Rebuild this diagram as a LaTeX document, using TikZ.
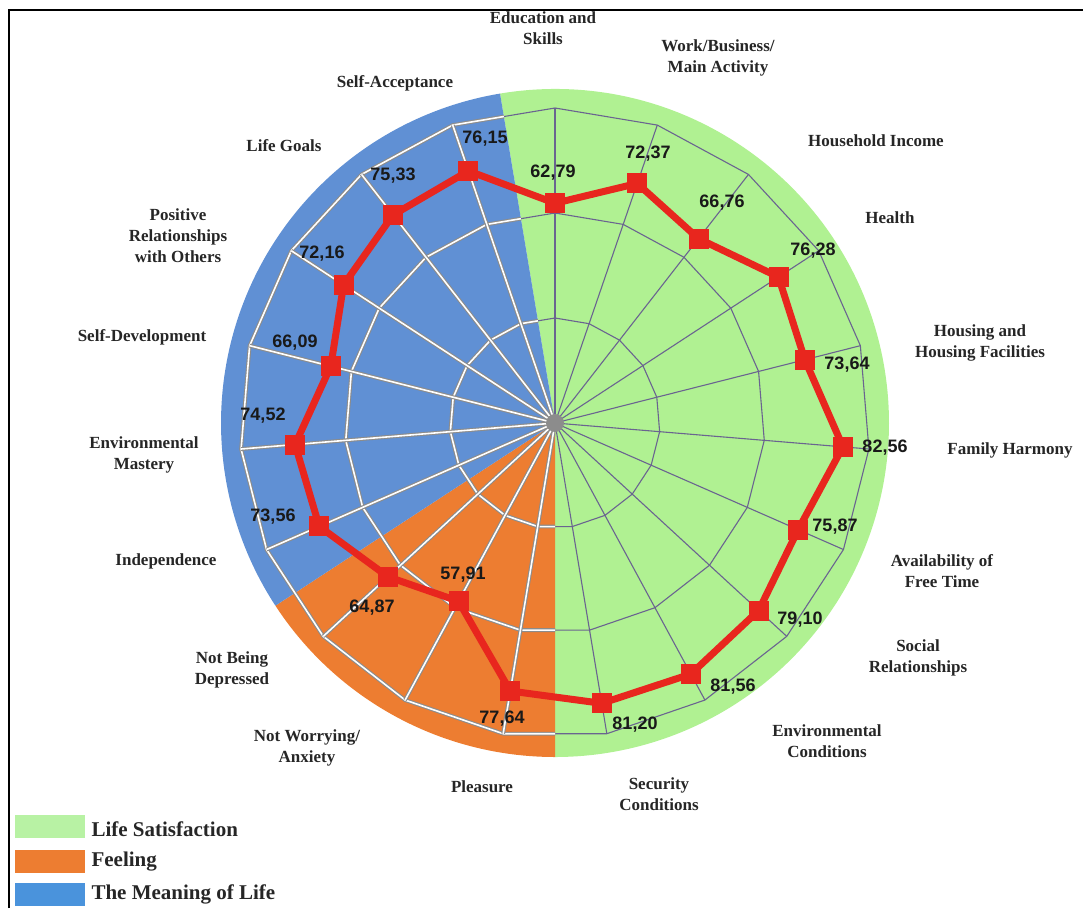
\documentclass[tikz,border=0pt]{standalone}
\usepackage{fontspec}
\setmainfont{Liberation Serif}
\newfontfamily\numfont{Liberation Sans}
\definecolor{lifegreen}{HTML}{B0F192}
\definecolor{feelorange}{HTML}{ED7D31}
\definecolor{meaningblue}{HTML}{6090D4}
\definecolor{keygreen}{HTML}{B8F2A4}
\definecolor{keyblue}{HTML}{4A93DC}
\definecolor{webpurple}{HTML}{6A6490}
\definecolor{webgrey}{HTML}{8C8C8C}
\definecolor{scorered}{HTML}{E8261E}
\definecolor{labelgrey}{HTML}{262626}

\newcommand{\radarweb}[1]{%
  \foreach \r in {105,210,315}
    \draw[#1] (90:\r) \foreach \k in {1,...,18} { -- ({90-\k*360/19}:\r) } -- cycle;
  \foreach \k in {0,...,18}
    \draw[#1] (0,0) -- ({90-\k*360/19}:315);
}

\begin{document}
\begin{tikzpicture}[x=1pt, y=1pt,
    dimlabel/.style={font=\fontsize{17}{21}\selectfont\bfseries, text=labelgrey, align=center},
    scorelabel/.style={font=\numfont\fontsize{18}{20}\selectfont\bfseries, text=black!90},
    keylabel/.style={font=\fontsize{21}{24}\selectfont\bfseries, text=labelgrey, anchor=west},
    scorebox/.style={fill=scorered, minimum size=20pt, inner sep=0pt},
    scoreline/.style={draw=scorered, line width=7pt, line join=round},
    greenweb/.style={draw=webpurple, line width=1.1pt},
    whiteweb/.style={draw=webgrey, line width=1.1pt, double=white, double distance=1.6pt}]
\useasboundingbox (0,0) rectangle (1083,-908);
\draw[line width=1.3pt] (9,-908) -- (9,-10) -- (1083,-10);

\begin{scope}[shift={(555,-423)}]
  % sectors
  \fill[lifegreen] (0,0) -- (99.4737:334) arc[start angle=99.4737, end angle=-90, radius=334] -- cycle;
  \fill[feelorange] (0,0) -- (-90:334) arc[start angle=-90, end angle=-146.842, radius=334] -- cycle;
  \fill[meaningblue] (0,0) -- (-146.842:334) arc[start angle=-146.842, end angle=-260.526, radius=334] -- cycle;
  % web
  \begin{scope}
    \clip (0,0) -- (99.4737:400) arc[start angle=99.4737, end angle=-90, radius=400] -- cycle;
    \radarweb{greenweb}
  \end{scope}
  \begin{scope}
    \clip (0,0) -- (-90:400) arc[start angle=-90, end angle=-260.526, radius=400] -- cycle;
    \radarweb{whiteweb}
  \end{scope}
  \fill[webgrey] (0,0) circle[radius=9];
  % scores
  \foreach \v [count=\i from 0] in {62.79,72.37,66.76,76.28,73.64,82.56,75.87,79.10,81.56,81.20,77.64,57.91,64.87,73.56,74.52,66.09,72.16,75.33,76.15}
    \coordinate (p\i) at ({90-\i*360/19}:{\v/90*315});
  \draw[scoreline] (p0) \foreach \i in {1,...,18} { -- (p\i) } -- cycle;
  \foreach \i in {0,...,18}
    \node[scorebox] (s\i) at (p\i) {};
\end{scope}

% score values
\node[scorelabel] (v0) at (553,-173) {62,79};
\node[scorelabel] (v1) at (648,-154) {72,37};
\node[scorelabel] (v2) at (722,-203) {66,76};
\node[scorelabel] (v3) at (813,-251) {76,28};
\node[scorelabel] (v4) at (847,-365) {73,64};
\node[scorelabel] (v5) at (885,-448) {82,56};
\node[scorelabel] (v6) at (835,-527) {75,87};
\node[scorelabel] (v7) at (800,-620) {79,10};
\node[scorelabel] (v8) at (733,-687) {81,56};
\node[scorelabel] (v9) at (635,-725) {81,20};
\node[scorelabel] (v10) at (502,-719) {77,64};
\node[scorelabel] (v11) at (463,-575) {57,91};
\node[scorelabel] (v12) at (372,-608) {64,87};
\node[scorelabel] (v13) at (273,-517) {73,56};
\node[scorelabel] (v14) at (263,-416) {74,52};
\node[scorelabel] (v15) at (295,-343) {66,09};
\node[scorelabel] (v16) at (322,-254) {72,16};
\node[scorelabel] (v17) at (393,-176) {75,33};
\node[scorelabel] (v18) at (485,-139) {76,15};

% dimensions
\node[dimlabel] (d0) at (543,-28) {Education and\\Skills};
\node[dimlabel] (d1) at (718,-58) {Work/Business/\\Main Activity};
\node[dimlabel] (d2) at (876,-141) {Household Income};
\node[dimlabel] (d3) at (890,-218) {Health};
\node[dimlabel] (d4) at (980,-343) {Housing and\\Housing Facilities};
\node[dimlabel] (d5) at (1010,-450) {Family Harmony};
\node[dimlabel] (d6) at (942,-571) {Availability of\\Free Time};
\node[dimlabel] (d7) at (918,-658) {Social\\Relationships};
\node[dimlabel] (d8) at (827,-741) {Environmental\\Conditions};
\node[dimlabel] (d9) at (659,-794) {Security\\Conditions};
\node[dimlabel] (d10) at (482,-787) {Pleasure};
\node[dimlabel] (d11) at (307,-748) {Not Worrying/\\Anxiety};
\node[dimlabel] (d12) at (232,-670) {Not Being\\Depressed};
\node[dimlabel] (d13) at (166,-561) {Independence};
\node[dimlabel] (d14) at (144,-455) {Environmental\\Mastery};
\node[dimlabel] (d15) at (142,-337) {Self-Development};
\node[dimlabel] (d16) at (178,-236) {Positive\\Relationships\\with Others};
\node[dimlabel] (d17) at (284,-146) {Life Goals};
\node[dimlabel] (d18) at (395,-83) {Self-Acceptance};

% legend
\fill[keygreen] (15,-815) rectangle (85,-838);
\fill[feelorange] (15,-850) rectangle (85,-873);
\fill[keyblue] (15,-883) rectangle (85,-906);
\node[keylabel] (k0) at (88,-829) {Life Satisfaction};
\node[keylabel] (k1) at (88,-862) {Feeling};
\node[keylabel] (k2) at (88,-894) {The Meaning of Life};
\end{tikzpicture}
\end{document}
